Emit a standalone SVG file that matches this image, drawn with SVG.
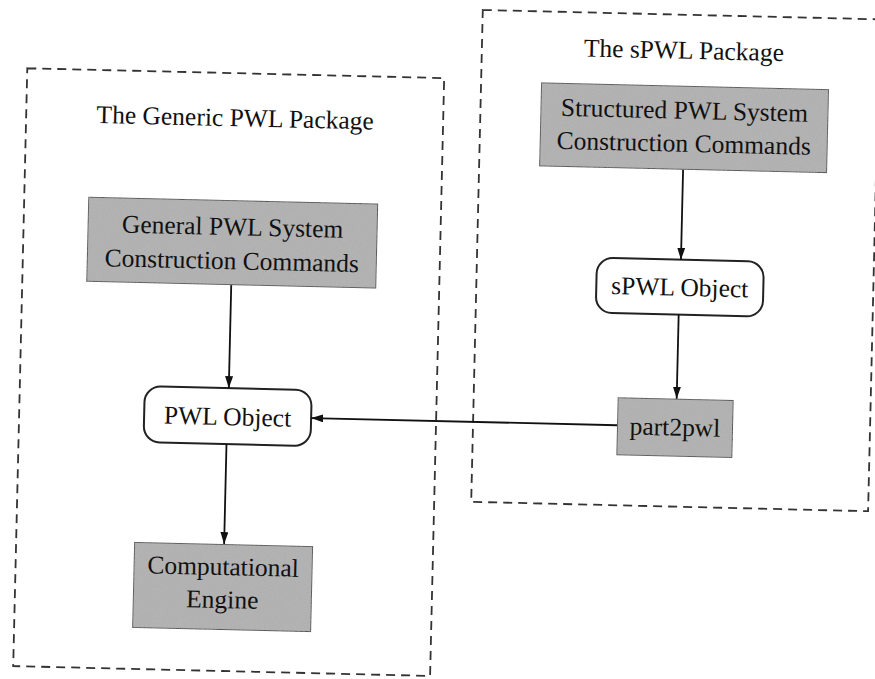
<svg xmlns="http://www.w3.org/2000/svg" width="875" height="679" viewBox="0 0 875 679">
<defs>
<marker id="arr" viewBox="0 0 12 8" refX="12" refY="4" markerWidth="12" markerHeight="8" markerUnits="userSpaceOnUse" orient="auto">
<path d="M0,0 L12,4 L0,8 Z" fill="#111"/>
</marker>
<filter id="grain" x="0" y="0" width="100%" height="100%">
<feTurbulence type="fractalNoise" baseFrequency="0.9" numOctaves="2" seed="3" result="n"/>
<feColorMatrix in="n" type="matrix" values="0 0 0 0 0.62  0 0 0 0 0.62  0 0 0 0 0.62  0 0 0 0.35 0" result="g"/>
<feComposite in="g" in2="SourceGraphic" operator="in" result="gc"/>
<feMerge><feMergeNode in="SourceGraphic"/><feMergeNode in="gc"/></feMerge>
</filter>
</defs>
<style>
.pkg{fill:none;stroke:#333;stroke-width:1.8;stroke-dasharray:9 6}
.grey{fill:#ababab;stroke:#222;stroke-width:2}
.obj{fill:#fff;stroke:#222;stroke-width:2}
.t{font-family:"Liberation Serif","Times New Roman",serif;font-size:25.5px;fill:#111;text-anchor:middle}
.edge{stroke:#111;stroke-width:1.8;fill:none;marker-end:url(#arr)}
</style>
<rect width="875" height="679" fill="#fff"/>
<g transform="rotate(1.35 437 340)">
<g id="generic-package">
<rect class="pkg" x="21" y="78" width="417" height="598"/>
<text class="t" x="230" y="131">The Generic PWL Package</text>
</g>
<g id="spwl-package">
<rect class="pkg" x="475" y="9" width="397" height="492"/>
<text class="t" x="677" y="53">The sPWL Package</text>
</g>
<g id="general-commands">
<rect class="grey" filter="url(#grain)" x="85" y="205" width="290" height="85"/>
<text class="t" x="230" y="240">General PWL System</text>
<text class="t" x="230" y="274">Construction Commands</text>
</g>
<g id="pwl-object">
<rect class="obj" x="146" y="393" width="167" height="56" rx="16"/>
<text class="t" x="229.5" y="430">PWL Object</text>
</g>
<g id="computational-engine">
<rect class="grey" filter="url(#grain)" x="139" y="549" width="179" height="86"/>
<text class="t" x="228.5" y="580">Computational</text>
<text class="t" x="228.5" y="613">Engine</text>
</g>
<g id="structured-commands">
<rect class="grey" filter="url(#grain)" x="535" y="80" width="288" height="84"/>
<text class="t" x="679" y="113">Structured PWL System</text>
<text class="t" x="679" y="146">Construction Commands</text>
</g>
<g id="spwl-object">
<rect class="obj" x="595" y="254" width="167" height="55" rx="16"/>
<text class="t" x="678.5" y="290">sPWL Object</text>
</g>
<g id="part2pwl">
<rect class="grey" filter="url(#grain)" x="619" y="393" width="116" height="58"/>
<text class="t" x="677" y="430">part2pwl</text>
</g>
<g id="connectors">
<line class="edge" x1="230" y1="290" x2="230" y2="393"/>
<line class="edge" x1="229" y1="449" x2="229" y2="549"/>
<line class="edge" x1="679" y1="164" x2="679" y2="254"/>
<line class="edge" x1="678" y1="309" x2="678" y2="393"/>
<line class="edge" x1="619" y1="421" x2="313" y2="421"/>
</g>
</g>
</svg>
